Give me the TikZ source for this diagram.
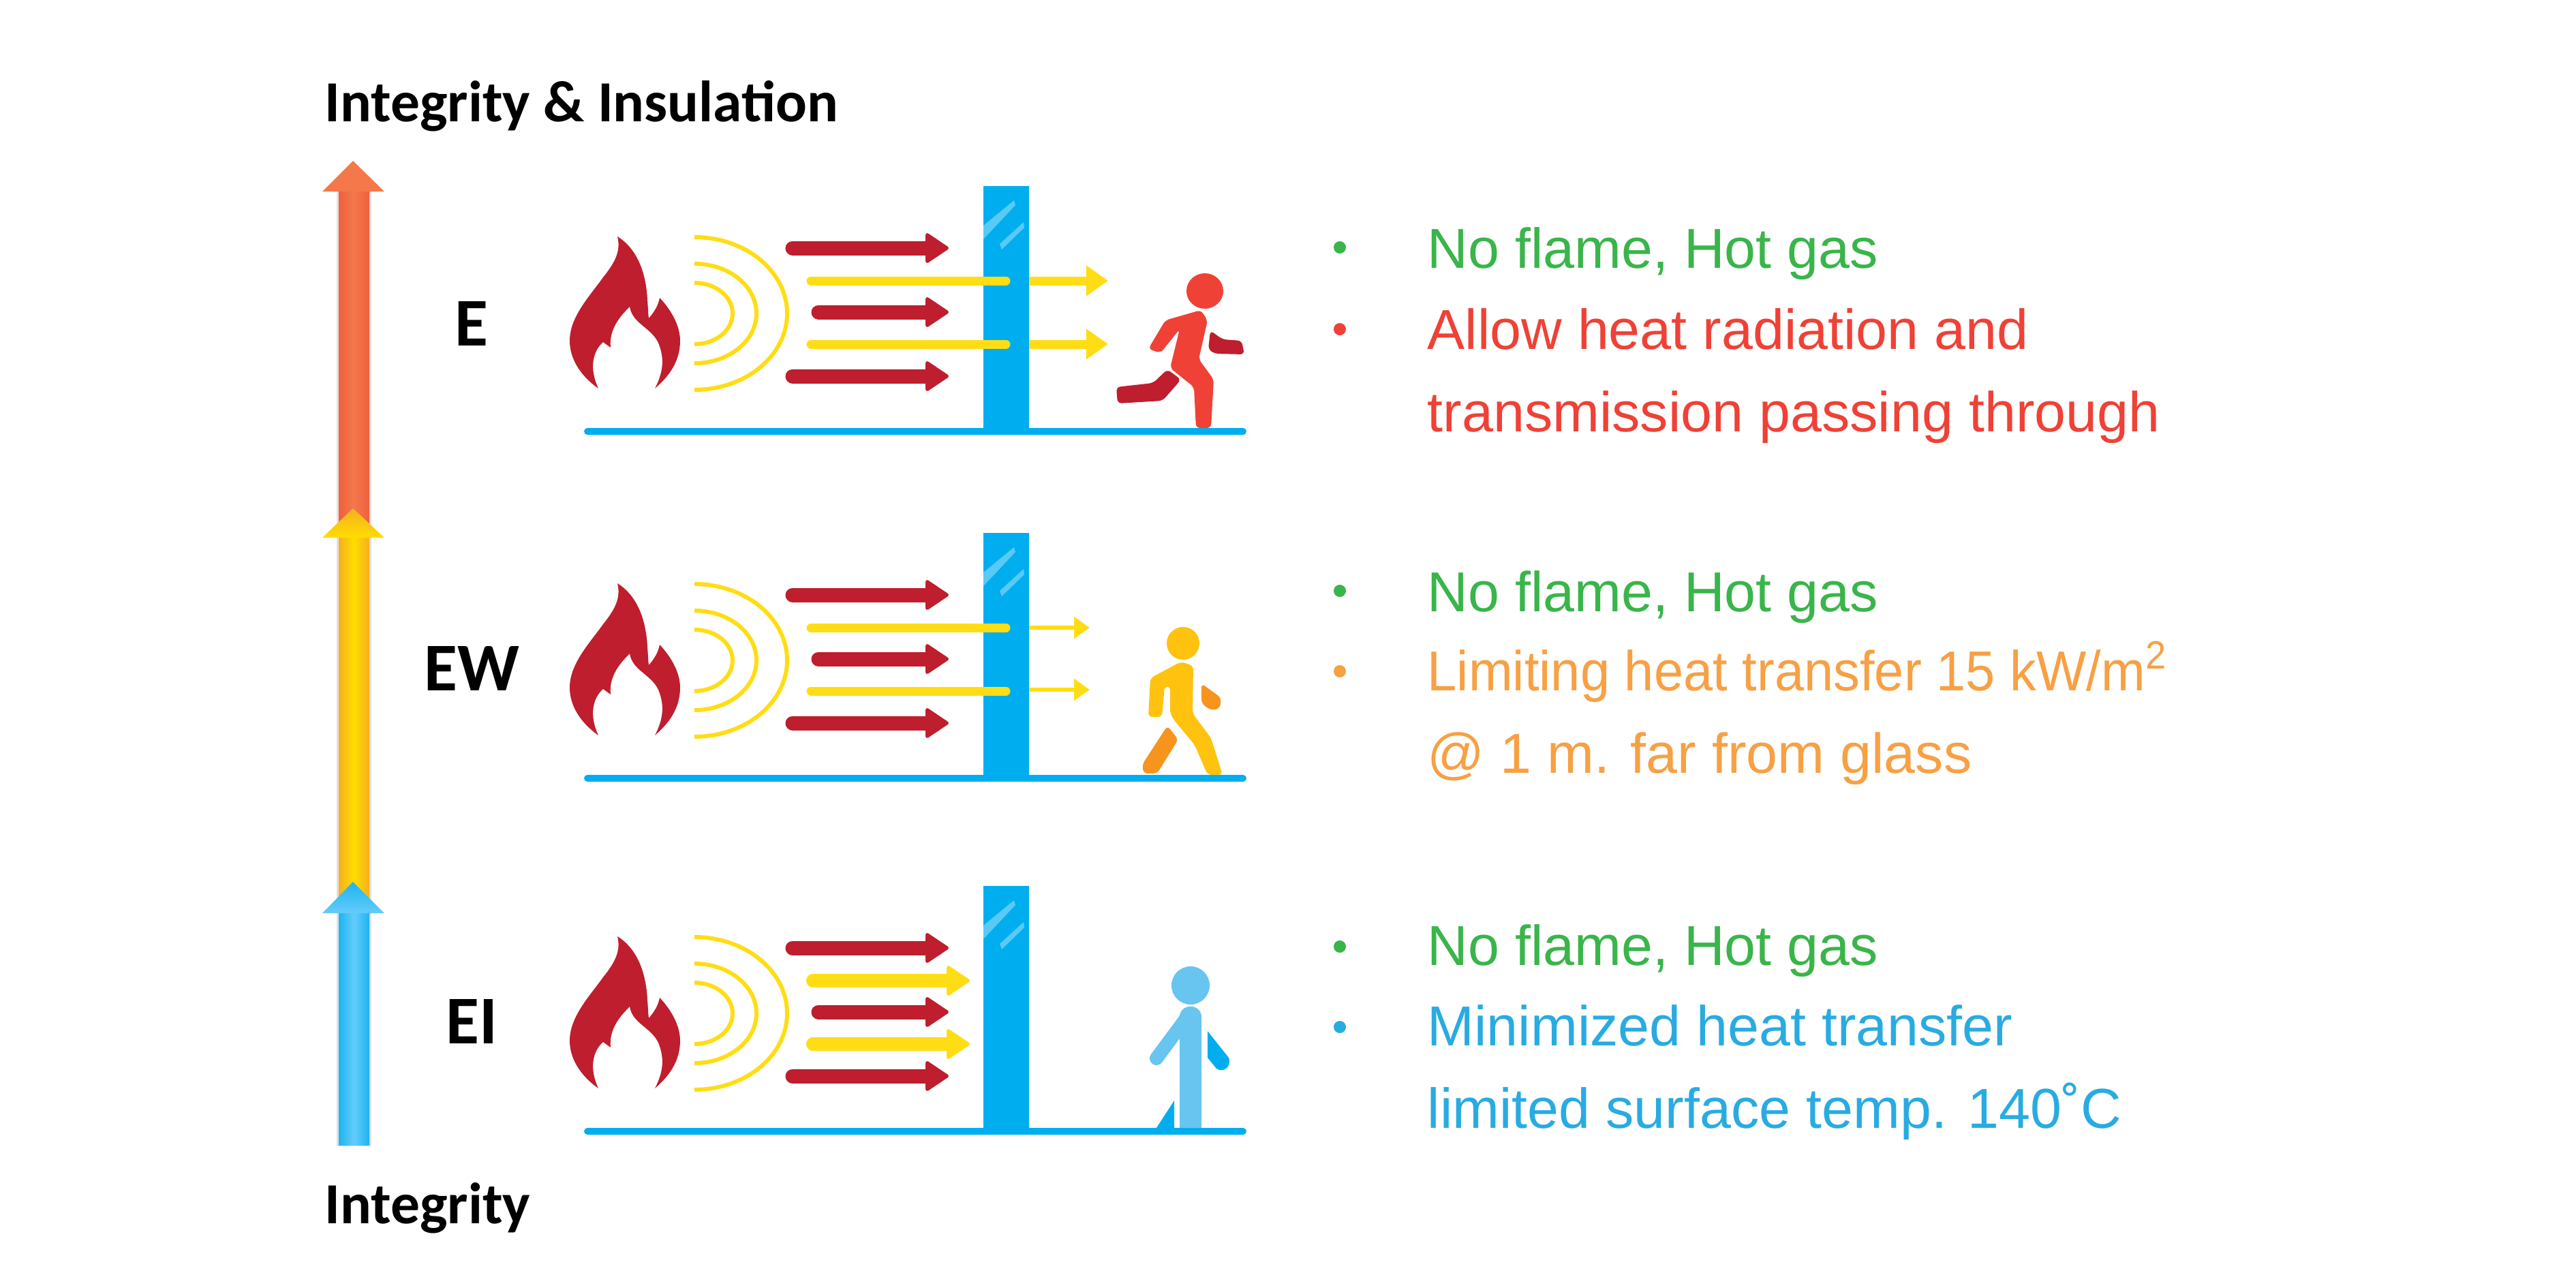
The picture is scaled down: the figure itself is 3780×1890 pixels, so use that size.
\documentclass[tikz,border=0pt]{standalone}
\usepackage{fontspec}
\setmainfont{Liberation Sans}
\newfontfamily\labelfont{Carlito}
\usetikzlibrary{arrows.meta}
\definecolor{flamered}{HTML}{BE1E2D}
\definecolor{heatyellow}{HTML}{FFDD15}
\definecolor{glassblue}{HTML}{00AEEF}
\definecolor{textgreen}{HTML}{39B54A}
\definecolor{textred}{HTML}{EF4136}
\definecolor{textorange}{HTML}{F7A044}
\definecolor{textblue}{HTML}{29ABE2}
\definecolor{walkyellow}{HTML}{FFC20E}
\definecolor{walkorange}{HTML}{F7941D}
\definecolor{standblue}{HTML}{67C5F0}
\definecolor{levelred}{HTML}{F4784A}
\definecolor{levelreddark}{HTML}{F0603E}
\definecolor{levelyellow}{HTML}{FFDD00}
\definecolor{levelyellowdark}{HTML}{F5B020}
\definecolor{levelblue}{HTML}{64CCFA}
\definecolor{levelbluedark}{HTML}{1DB4F0}
\tikzset{
  axislabel/.style={font=\labelfont\bfseries\fontsize{24.3}{28}\selectfont, anchor=base west, inner sep=0pt},
  classlabel/.style={font=\labelfont\bfseries\fontsize{28.5}{32}\selectfont, inner sep=0pt},
  notetext/.style={font=\fontsize{23.5}{28}\selectfont, anchor=base west, inner sep=0pt},
  notedot/.style={circle, fill, inner sep=0pt, minimum size=.18cm},
  hotarrow/.style={flamered, line width=.21cm, line cap=round, -{Triangle[length=.36cm,width=.47cm,line width=.05cm,round]}},
  radarrow/.style={heatyellow, line width=.13cm, line cap=round},
  wave/.style={heatyellow, line width=.06cm},
  softbody/.style={rounded corners=.06cm}
}
\newcommand{\firerow}{
  \fill[flamered] (906,347) .. controls (935,365) and (948,400) .. (950,440) .. controls (951,452) and (951,460) .. (952,467)
    .. controls (960,458) and (966,448) .. (968,437) .. controls (985,455) and (998,478) .. (998,500)
    .. controls (998,530) and (982,552) .. (961,570) .. controls (974,545) and (975,525) .. (966,503)
    .. controls (955,480) and (928,475) .. (924,450) .. controls (912,462) and (893,482) .. (896,510)
    -- (885,502) .. controls (870,515) and (864,540) .. (878,570)
    .. controls (850,550) and (836,525) .. (836,500) .. controls (836,465) and (865,435) .. (885,407)
    .. controls (900,388) and (912,370) .. (906,347) -- cycle;
  \draw[wave] (1019,348) arc[start angle=-90, end angle=90, x radius=136, y radius=112];
  \draw[wave] (1019,387) arc[start angle=-90, end angle=90, x radius=91, y radius=73];
  \draw[wave] (1019,415) arc[start angle=-90, end angle=90, x radius=56, y radius=45];
  \draw[hotarrow] (1163,364) -- (1392,364);
  \draw[hotarrow] (1201,458) -- (1392,458);
  \draw[hotarrow] (1163,552) -- (1392,552);
}
\newcommand{\glasswall}{
  \fill[glassblue, rounded corners=.05cm] (857,628) rectangle (1829,638);
  \fill[glassblue] (1443,273) rectangle (1510,638);
  \fill[white, opacity=.35] (1443,331) -- (1488,294) -- (1490,301) -- (1443,351) -- cycle;
  \fill[white, opacity=.35] (1467,358) -- (1502,326) -- (1503,334) -- (1470,366) -- cycle;
}
\begin{document}
\begin{tikzpicture}[x=.01cm, y=-.01cm]
\useasboundingbox (0,0) rectangle (3780,1890);

% level arrow
\fill[black!12] (494,270) rectangle (545,1682);
\shade[left color=levelreddark, right color=levelreddark, middle color=levelred] (497,270) rectangle (542,770);
\fill[levelred] (473,281) -- (518,236) -- (564,281) -- cycle;
\shade[left color=levelyellowdark, right color=levelyellowdark, middle color=levelyellow] (497,780) rectangle (542,1320);
\shade[top color=levelyellowdark, bottom color=levelyellow] (473,789) -- (518,746) -- (564,789) -- cycle;
\shade[left color=levelbluedark, right color=levelbluedark, middle color=levelblue] (497,1330) rectangle (542,1680);
\shade[top color=levelbluedark, bottom color=levelblue] (473,1340) -- (518,1294) -- (564,1340) -- cycle;
\node[axislabel] (toplabel) at (476,178) {Integrity \& Insulation};
\node[axislabel] (botlabel) at (476,1795) {Integrity};

% E
\node[classlabel] (rowe) at (692,475) {E};
\firerow
\glasswall
\draw[radarrow] (1190,412) -- (1476,412);
\draw[radarrow] (1190,505) -- (1476,505);
\draw[heatyellow, line width=.13cm, -{Triangle[length=.32cm,width=.43cm]}] (1510,412) -- (1626,412);
\draw[heatyellow, line width=.13cm, -{Triangle[length=.32cm,width=.43cm]}] (1510,505) -- (1626,505);
\fill[textred] (1768,427) ellipse[x radius=27, y radius=26];
\fill[textred, softbody] (1710,470) -- (1762,455) -- (1772,470) -- (1759,527) -- (1781,557) -- (1777,628) -- (1755,628) -- (1752,568) -- (1717,540) -- (1731,483) -- (1703,518) -- (1685,512) -- cycle;
\fill[flamered, softbody] (1776,485) -- (1794,498) -- (1822,500) -- (1826,520) -- (1783,519) -- (1773,513) -- cycle;
\fill[flamered, softbody] (1713,542) -- (1733,557) -- (1706,588) -- (1640,592) -- (1638,568) -- (1692,562) -- cycle;

% EW
\begin{scope}[shift={(0,509)}]
\node[classlabel] (rowew) at (692,472) {EW};
\firerow
\glasswall
\draw[radarrow] (1190,412) -- (1476,412);
\draw[radarrow] (1190,505) -- (1476,505);
\draw[heatyellow, line width=.06cm, -{Triangle[length=.23cm,width=.31cm]}] (1510,412) -- (1599,412);
\draw[heatyellow, line width=.06cm, -{Triangle[length=.23cm,width=.31cm]}] (1510,503) -- (1599,503);
\end{scope}
\fill[walkyellow] (1736,944) circle[radius=24];
\fill[walkyellow, softbody] (1733,971) -- (1751,977) -- (1750,1047) -- (1777,1083) -- (1794,1137) -- (1772,1137) -- (1753,1093) -- (1723,1057) -- (1717,1047) -- (1717,1007) -- (1709,1007) -- (1705,1052) -- (1685,1052) -- (1688,995) -- cycle;
\fill[walkorange, softbody] (1763,1003) -- (1792,1024) -- (1790,1040) -- (1776,1042) -- (1763,1032) -- cycle;
\fill[walkorange, softbody] (1713,1065) -- (1729,1085) -- (1698,1135) -- (1678,1135) -- (1676,1122) -- cycle;

% EI
\begin{scope}[shift={(0,1027)}]
\node[classlabel] (rowei) at (692,472) {EI};
\firerow
\glasswall
\draw[heatyellow, line width=.2cm, line cap=round, -{Triangle[length=.36cm,width=.47cm,line width=.05cm,round]}] (1193,412) -- (1423,412);
\draw[heatyellow, line width=.2cm, line cap=round, -{Triangle[length=.36cm,width=.47cm,line width=.05cm,round]}] (1193,505) -- (1423,505);
\end{scope}
\fill[standblue] (1747,1446) circle[radius=28];
\fill[standblue] (1731,1655) [rounded corners=.15cm] -- (1731,1477) -- (1763,1477) [sharp corners] -- (1763,1655) -- cycle;
\draw[standblue, line width=.2cm, line cap=round] (1740,1495) -- (1697,1553);
\fill[glassblue] (1772,1513) -- (1803,1552) .. controls (1808,1565) and (1795,1575) .. (1785,1568) -- (1772,1552) -- cycle;
\fill[glassblue] (1723,1615) -- (1723,1658) -- (1695,1658) -- cycle;

% notes
\foreach \ny/\nw in {393/noa, 897/nob, 1416/noc}{
  \node[notetext, textgreen] (\nw) at (2094,\ny) {No flame, Hot gas};
}
\node[notedot, textgreen] (dota) at (1966,363) {};
\node[notedot, textgreen] (dotb) at (1966,867) {};
\node[notedot, textgreen] (dotc) at (1966,1389) {};
\node[notedot, textred] (dotd) at (1966,483) {};
\node[notedot, textorange] (dote) at (1966,985) {};
\node[notedot, textblue] (dotf) at (1966,1507) {};
\node[notetext, textred] (ela) at (2094,512) {Allow heat radiation and};
\node[notetext, textred] (elb) at (2094,633) {transmission passing through};
\node[notetext, textorange, xscale=.94, transform shape] (ewa) at (2094,1013) {Limiting heat transfer 15 kW/m\textsuperscript{2}};
\node[notetext, textorange] (ewb) at (2094,1134) {@ 1 m. far from glass};
\node[notetext, textblue] (eia) at (2094,1534) {Minimized heat transfer};
\node[notetext, textblue] (eib) at (2094,1655) {limited surface temp. 140˚C};
\end{tikzpicture}
\end{document}
